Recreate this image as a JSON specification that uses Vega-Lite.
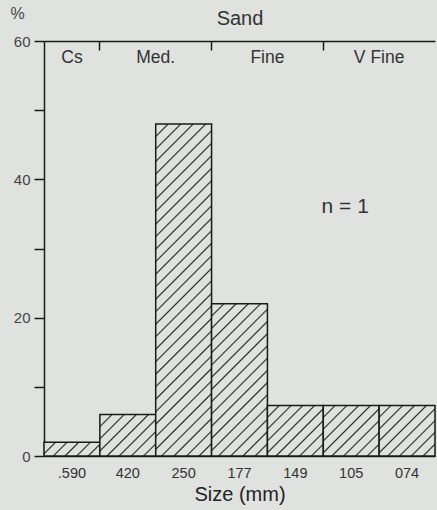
{
  "$schema": "https://vega.github.io/schema/vega-lite/v6.json",
  "width": 391,
  "height": 415,
  "autosize": "none",
  "padding": {"left": 44, "top": 41, "right": 2, "bottom": 54},
  "background": "#e0e2e0",
  "config": {"view": {"stroke": null}, "font": "Liberation Sans"},
  "datasets": {
    "bars": [
      {"size": ".590", "pct": 2},
      {"size": "420", "pct": 6},
      {"size": "250", "pct": 48},
      {"size": "177", "pct": 22},
      {"size": "149", "pct": 7.3},
      {"size": "105", "pct": 7.3},
      {"size": "074", "pct": 7.3}
    ],
    "classes": [
      {"label": "Cs", "at": ".590", "centered": true},
      {"label": "Med.", "at": "250", "centered": false},
      {"label": "Fine", "at": "149", "centered": false},
      {"label": "V  Fine", "at": "074", "centered": false}
    ],
    "note": [{"label": "n = 1"}]
  },
  "resolve": {"axis": {"x": "independent"}},
  "layer": [
    {
      "data": {"name": "bars"},
      "mark": {"type": "bar", "stroke": "#1a1a1a", "strokeWidth": 1.5},
      "encoding": {
        "x": {
          "field": "size", "type": "nominal",
          "scale": {"domain": [".590", "420", "250", "177", "149", "105", "074"], "paddingInner": 0, "paddingOuter": 0},
          "axis": {"orient": "bottom", "domainColor": "#1a1a1a", "domainWidth": 1.5, "ticks": false, "labelFontSize": 14.5, "labelColor": "#333", "labelPadding": 10, "labelAngle": 0, "title": "Size (mm)", "titleFontSize": 20, "titleFontWeight": "normal", "titleColor": "#222", "titlePadding": 5}
        },
        "y": {
          "field": "pct", "type": "quantitative",
          "scale": {"domain": [0, 60], "nice": false},
          "axis": {"values": [0, 10, 20, 30, 40, 50, 60], "labelExpr": "datum.value % 20 === 0 ? datum.label : ''", "grid": false, "tickSize": 10, "tickColor": "#1a1a1a", "tickWidth": 1.5, "domainColor": "#1a1a1a", "domainWidth": 1.5, "labelFontSize": 15, "labelColor": "#444", "labelPadding": 4, "title": "%", "titleAngle": 0, "titleX": -27, "titleY": -28, "titleFontSize": 16, "titleFontWeight": "normal", "titleColor": "#444", "titleAlign": "center", "titleBaseline": "middle"}
        },
        "fill": {
          "condition": [
            {"test": "datum.size === '.590'", "value": {"gradient": "linear", "x1": 0, "y1": 0, "x2": 1.1755, "y2": 0.291, "stops": [
              {"offset": 0, "color": "#e0e2e0"},
              {"offset": 0.1437, "color": "#e0e2e0"}, {"offset": 0.1667, "color": "#262626"}, {"offset": 0.1897, "color": "#e0e2e0"},
              {"offset": 0.3103, "color": "#e0e2e0"}, {"offset": 0.3333, "color": "#262626"}, {"offset": 0.3563, "color": "#e0e2e0"},
              {"offset": 0.477, "color": "#e0e2e0"}, {"offset": 0.5, "color": "#262626"}, {"offset": 0.523, "color": "#e0e2e0"},
              {"offset": 0.6437, "color": "#e0e2e0"}, {"offset": 0.6667, "color": "#262626"}, {"offset": 0.6897, "color": "#e0e2e0"},
              {"offset": 0.8103, "color": "#e0e2e0"}, {"offset": 0.8333, "color": "#262626"}, {"offset": 0.8563, "color": "#e0e2e0"},
              {"offset": 1, "color": "#e0e2e0"}
            ]}},
            {"test": "datum.size === '420'", "value": {"gradient": "linear", "x1": 0, "y1": 0, "x2": 1.1231, "y2": 0.8344, "stops": [
              {"offset": 0, "color": "#e0e2e0"},
              {"offset": 0.1086, "color": "#e0e2e0"}, {"offset": 0.125, "color": "#262626"}, {"offset": 0.1414, "color": "#e0e2e0"},
              {"offset": 0.2336, "color": "#e0e2e0"}, {"offset": 0.25, "color": "#262626"}, {"offset": 0.2664, "color": "#e0e2e0"},
              {"offset": 0.3586, "color": "#e0e2e0"}, {"offset": 0.375, "color": "#262626"}, {"offset": 0.3914, "color": "#e0e2e0"},
              {"offset": 0.4836, "color": "#e0e2e0"}, {"offset": 0.5, "color": "#262626"}, {"offset": 0.5164, "color": "#e0e2e0"},
              {"offset": 0.6086, "color": "#e0e2e0"}, {"offset": 0.625, "color": "#262626"}, {"offset": 0.6414, "color": "#e0e2e0"},
              {"offset": 0.7336, "color": "#e0e2e0"}, {"offset": 0.75, "color": "#262626"}, {"offset": 0.7664, "color": "#e0e2e0"},
              {"offset": 0.8586, "color": "#e0e2e0"}, {"offset": 0.875, "color": "#262626"}, {"offset": 0.8914, "color": "#e0e2e0"},
              {"offset": 1, "color": "#e0e2e0"}
            ]}},
            {"test": "datum.size === '250'", "value": {"gradient": "linear", "x1": 0, "y1": 0, "x2": 0.19115, "y2": 1.1361, "stops": [
              {"offset": 0, "color": "#e0e2e0"},
              {"offset": 0.02816, "color": "#e0e2e0"}, {"offset": 0.03226, "color": "#262626"}, {"offset": 0.03636, "color": "#e0e2e0"},
              {"offset": 0.06042, "color": "#e0e2e0"}, {"offset": 0.06452, "color": "#262626"}, {"offset": 0.06862, "color": "#e0e2e0"},
              {"offset": 0.09267, "color": "#e0e2e0"}, {"offset": 0.09677, "color": "#262626"}, {"offset": 0.10087, "color": "#e0e2e0"},
              {"offset": 0.12493, "color": "#e0e2e0"}, {"offset": 0.12903, "color": "#262626"}, {"offset": 0.13313, "color": "#e0e2e0"},
              {"offset": 0.15719, "color": "#e0e2e0"}, {"offset": 0.16129, "color": "#262626"}, {"offset": 0.16539, "color": "#e0e2e0"},
              {"offset": 0.18945, "color": "#e0e2e0"}, {"offset": 0.19355, "color": "#262626"}, {"offset": 0.19765, "color": "#e0e2e0"},
              {"offset": 0.22171, "color": "#e0e2e0"}, {"offset": 0.22581, "color": "#262626"}, {"offset": 0.22991, "color": "#e0e2e0"},
              {"offset": 0.25396, "color": "#e0e2e0"}, {"offset": 0.25806, "color": "#262626"}, {"offset": 0.26216, "color": "#e0e2e0"},
              {"offset": 0.28622, "color": "#e0e2e0"}, {"offset": 0.29032, "color": "#262626"}, {"offset": 0.29442, "color": "#e0e2e0"},
              {"offset": 0.31848, "color": "#e0e2e0"}, {"offset": 0.32258, "color": "#262626"}, {"offset": 0.32668, "color": "#e0e2e0"},
              {"offset": 0.35074, "color": "#e0e2e0"}, {"offset": 0.35484, "color": "#262626"}, {"offset": 0.35894, "color": "#e0e2e0"},
              {"offset": 0.383, "color": "#e0e2e0"}, {"offset": 0.3871, "color": "#262626"}, {"offset": 0.3912, "color": "#e0e2e0"},
              {"offset": 0.41525, "color": "#e0e2e0"}, {"offset": 0.41935, "color": "#262626"}, {"offset": 0.42345, "color": "#e0e2e0"},
              {"offset": 0.44751, "color": "#e0e2e0"}, {"offset": 0.45161, "color": "#262626"}, {"offset": 0.45571, "color": "#e0e2e0"},
              {"offset": 0.47977, "color": "#e0e2e0"}, {"offset": 0.48387, "color": "#262626"}, {"offset": 0.48797, "color": "#e0e2e0"},
              {"offset": 0.51203, "color": "#e0e2e0"}, {"offset": 0.51613, "color": "#262626"}, {"offset": 0.52023, "color": "#e0e2e0"},
              {"offset": 0.54429, "color": "#e0e2e0"}, {"offset": 0.54839, "color": "#262626"}, {"offset": 0.55249, "color": "#e0e2e0"},
              {"offset": 0.57655, "color": "#e0e2e0"}, {"offset": 0.58065, "color": "#262626"}, {"offset": 0.58475, "color": "#e0e2e0"},
              {"offset": 0.6088, "color": "#e0e2e0"}, {"offset": 0.6129, "color": "#262626"}, {"offset": 0.617, "color": "#e0e2e0"},
              {"offset": 0.64106, "color": "#e0e2e0"}, {"offset": 0.64516, "color": "#262626"}, {"offset": 0.64926, "color": "#e0e2e0"},
              {"offset": 0.67332, "color": "#e0e2e0"}, {"offset": 0.67742, "color": "#262626"}, {"offset": 0.68152, "color": "#e0e2e0"},
              {"offset": 0.70558, "color": "#e0e2e0"}, {"offset": 0.70968, "color": "#262626"}, {"offset": 0.71378, "color": "#e0e2e0"},
              {"offset": 0.73784, "color": "#e0e2e0"}, {"offset": 0.74194, "color": "#262626"}, {"offset": 0.74604, "color": "#e0e2e0"},
              {"offset": 0.77009, "color": "#e0e2e0"}, {"offset": 0.77419, "color": "#262626"}, {"offset": 0.77829, "color": "#e0e2e0"},
              {"offset": 0.80235, "color": "#e0e2e0"}, {"offset": 0.80645, "color": "#262626"}, {"offset": 0.81055, "color": "#e0e2e0"},
              {"offset": 0.83461, "color": "#e0e2e0"}, {"offset": 0.83871, "color": "#262626"}, {"offset": 0.84281, "color": "#e0e2e0"},
              {"offset": 0.86687, "color": "#e0e2e0"}, {"offset": 0.87097, "color": "#262626"}, {"offset": 0.87507, "color": "#e0e2e0"},
              {"offset": 0.89913, "color": "#e0e2e0"}, {"offset": 0.90323, "color": "#262626"}, {"offset": 0.90733, "color": "#e0e2e0"},
              {"offset": 0.93138, "color": "#e0e2e0"}, {"offset": 0.93548, "color": "#262626"}, {"offset": 0.93958, "color": "#e0e2e0"},
              {"offset": 0.96364, "color": "#e0e2e0"}, {"offset": 0.96774, "color": "#262626"}, {"offset": 0.97184, "color": "#e0e2e0"},
              {"offset": 1, "color": "#e0e2e0"}
            ]}},
            {"test": "datum.size === '177'", "value": {"gradient": "linear", "x1": 0, "y1": 0, "x2": 0.44216, "y2": 1.2047, "stops": [
              {"offset": 0, "color": "#e0e2e0"},
              {"offset": 0.05112, "color": "#e0e2e0"}, {"offset": 0.05882, "color": "#262626"}, {"offset": 0.06652, "color": "#e0e2e0"},
              {"offset": 0.10995, "color": "#e0e2e0"}, {"offset": 0.11765, "color": "#262626"}, {"offset": 0.12535, "color": "#e0e2e0"},
              {"offset": 0.16877, "color": "#e0e2e0"}, {"offset": 0.17647, "color": "#262626"}, {"offset": 0.18417, "color": "#e0e2e0"},
              {"offset": 0.22759, "color": "#e0e2e0"}, {"offset": 0.23529, "color": "#262626"}, {"offset": 0.24299, "color": "#e0e2e0"},
              {"offset": 0.28642, "color": "#e0e2e0"}, {"offset": 0.29412, "color": "#262626"}, {"offset": 0.30182, "color": "#e0e2e0"},
              {"offset": 0.34524, "color": "#e0e2e0"}, {"offset": 0.35294, "color": "#262626"}, {"offset": 0.36064, "color": "#e0e2e0"},
              {"offset": 0.40406, "color": "#e0e2e0"}, {"offset": 0.41176, "color": "#262626"}, {"offset": 0.41946, "color": "#e0e2e0"},
              {"offset": 0.46289, "color": "#e0e2e0"}, {"offset": 0.47059, "color": "#262626"}, {"offset": 0.47829, "color": "#e0e2e0"},
              {"offset": 0.52171, "color": "#e0e2e0"}, {"offset": 0.52941, "color": "#262626"}, {"offset": 0.53711, "color": "#e0e2e0"},
              {"offset": 0.58054, "color": "#e0e2e0"}, {"offset": 0.58824, "color": "#262626"}, {"offset": 0.59594, "color": "#e0e2e0"},
              {"offset": 0.63936, "color": "#e0e2e0"}, {"offset": 0.64706, "color": "#262626"}, {"offset": 0.65476, "color": "#e0e2e0"},
              {"offset": 0.69818, "color": "#e0e2e0"}, {"offset": 0.70588, "color": "#262626"}, {"offset": 0.71358, "color": "#e0e2e0"},
              {"offset": 0.75701, "color": "#e0e2e0"}, {"offset": 0.76471, "color": "#262626"}, {"offset": 0.77241, "color": "#e0e2e0"},
              {"offset": 0.81583, "color": "#e0e2e0"}, {"offset": 0.82353, "color": "#262626"}, {"offset": 0.83123, "color": "#e0e2e0"},
              {"offset": 0.87465, "color": "#e0e2e0"}, {"offset": 0.88235, "color": "#262626"}, {"offset": 0.89005, "color": "#e0e2e0"},
              {"offset": 0.93348, "color": "#e0e2e0"}, {"offset": 0.94118, "color": "#262626"}, {"offset": 0.94888, "color": "#e0e2e0"},
              {"offset": 1, "color": "#e0e2e0"}
            ]}}
          ],
          "value": {"gradient": "linear", "x1": 0, "y1": 0, "x2": 1.0477, "y2": 0.9472, "stops": [
            {"offset": 0, "color": "#e0e2e0"},
            {"offset": 0.09611, "color": "#e0e2e0"}, {"offset": 0.11111, "color": "#262626"}, {"offset": 0.12611, "color": "#e0e2e0"},
            {"offset": 0.20722, "color": "#e0e2e0"}, {"offset": 0.22222, "color": "#262626"}, {"offset": 0.23722, "color": "#e0e2e0"},
            {"offset": 0.31833, "color": "#e0e2e0"}, {"offset": 0.33333, "color": "#262626"}, {"offset": 0.34833, "color": "#e0e2e0"},
            {"offset": 0.42944, "color": "#e0e2e0"}, {"offset": 0.44444, "color": "#262626"}, {"offset": 0.45944, "color": "#e0e2e0"},
            {"offset": 0.54056, "color": "#e0e2e0"}, {"offset": 0.55556, "color": "#262626"}, {"offset": 0.57056, "color": "#e0e2e0"},
            {"offset": 0.65167, "color": "#e0e2e0"}, {"offset": 0.66667, "color": "#262626"}, {"offset": 0.68167, "color": "#e0e2e0"},
            {"offset": 0.76278, "color": "#e0e2e0"}, {"offset": 0.77778, "color": "#262626"}, {"offset": 0.79278, "color": "#e0e2e0"},
            {"offset": 0.87389, "color": "#e0e2e0"}, {"offset": 0.88889, "color": "#262626"}, {"offset": 0.90389, "color": "#e0e2e0"},
            {"offset": 1, "color": "#e0e2e0"}
          ]}
        }
      }
    },
    {
      "data": {"name": "classes"},
      "transform": [{"filter": "!datum.centered"}],
      "mark": {"type": "text", "fontSize": 17.5, "color": "#333", "baseline": "middle", "align": "center"},
      "encoding": {
        "x": {
          "field": "at", "type": "nominal", "bandPosition": 0,
          "axis": {"orient": "top", "values": ["420", "177", "105"], "bandPosition": 0, "tickSize": -9, "labels": false, "domainColor": "#1a1a1a", "domainWidth": 1.5, "tickColor": "#1a1a1a", "tickWidth": 1.5, "title": "Sand", "titleFontSize": 20, "titleFontWeight": "normal", "titleColor": "#333", "titlePadding": 12}
        },
        "y": {"datum": 57.5, "type": "quantitative"},
        "text": {"field": "label"}
      }
    },
    {
      "data": {"name": "classes"},
      "transform": [{"filter": "datum.centered"}],
      "mark": {"type": "text", "fontSize": 17.5, "color": "#333", "baseline": "middle", "align": "center"},
      "encoding": {
        "x": {"field": "at", "type": "nominal", "axis": null},
        "y": {"datum": 57.5, "type": "quantitative"},
        "text": {"field": "label"}
      }
    },
    {
      "data": {"name": "note"},
      "mark": {"type": "text", "fontSize": 21, "color": "#333", "baseline": "middle", "align": "center", "dx": -6},
      "encoding": {
        "x": {"datum": "105", "type": "nominal", "axis": null},
        "y": {"datum": 36, "type": "quantitative"},
        "text": {"field": "label"}
      }
    }
  ]
}
